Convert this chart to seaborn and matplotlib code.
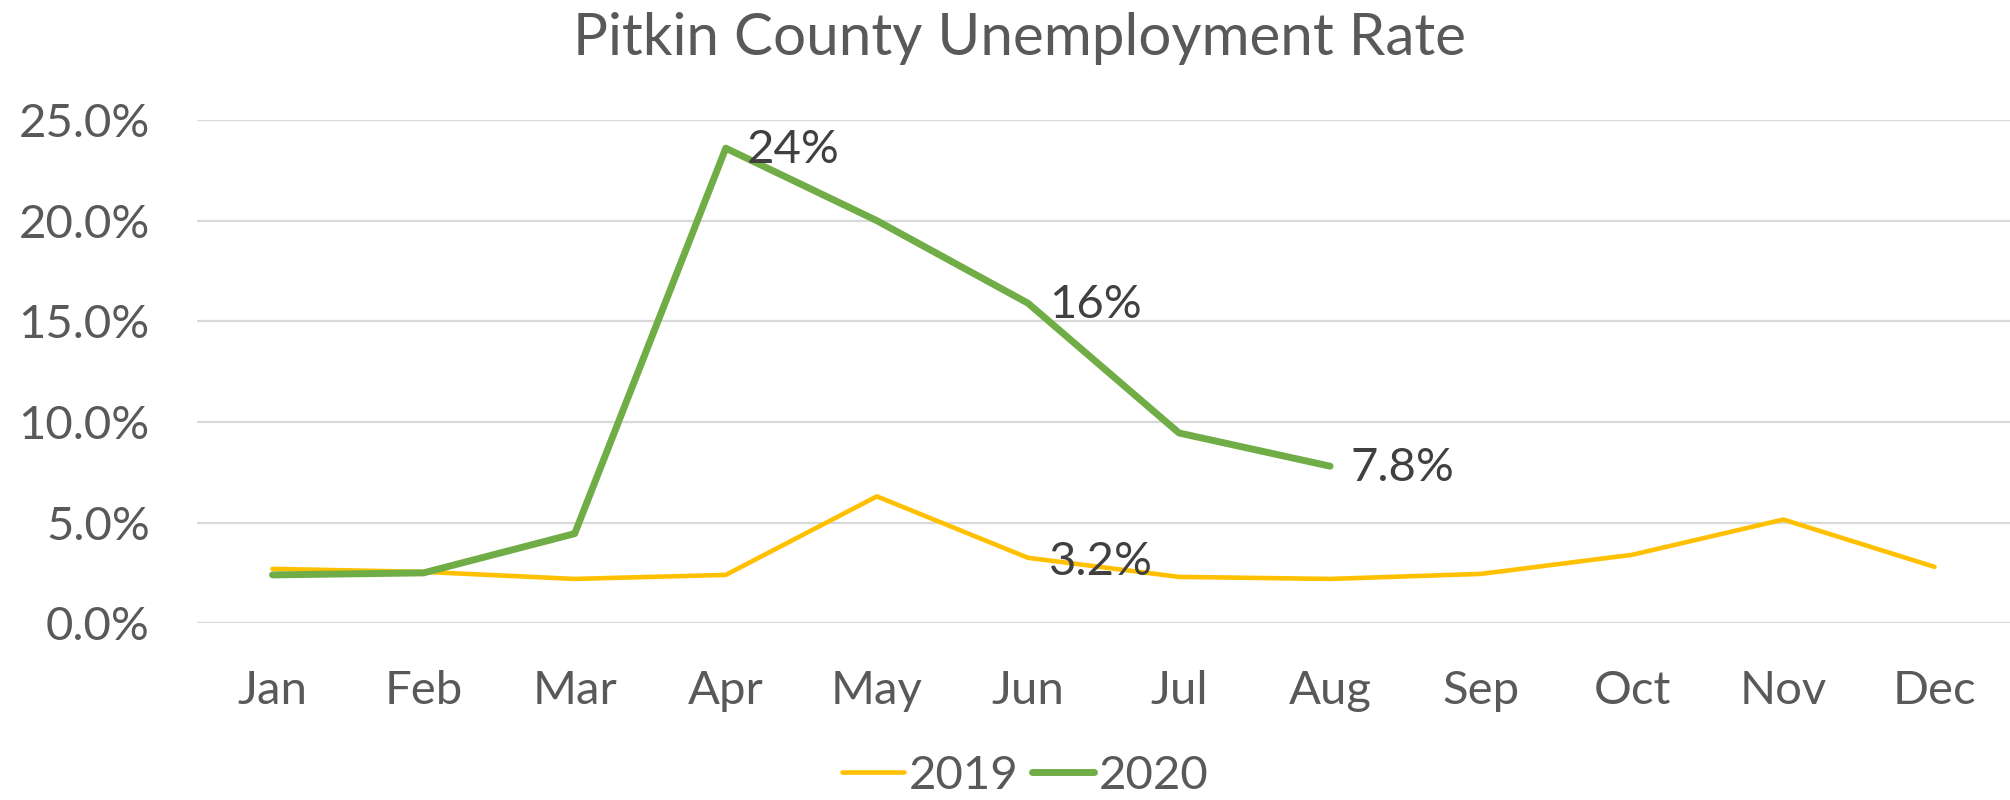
import matplotlib
matplotlib.use("Agg")
import matplotlib.pyplot as plt
import seaborn as sns
import pandas as pd
import numpy as np

months = ["Jan", "Feb", "Mar", "Apr", "May", "Jun", "Jul", "Aug", "Sep", "Oct", "Nov", "Dec"]
rate_2019 = [2.7, 2.55, 2.2, 2.4, 6.3, 3.25, 2.3, 2.2, 2.45, 3.4, 5.15, 2.8]
rate_2020 = [2.4, 2.5, 4.45, 23.6, 20.0, 15.9, 9.45, 7.8]
labels_2019 = {"Jun": "3.2%"}
labels_2020 = {"Apr": "24%", "Jun": "16%", "Aug": "7.8%"}
yticks = [0, 5, 10, 15, 20, 25]

sns.set_theme(style="white")
plt.rcParams["font.family"] = ["Lato", "DejaVu Sans"]

text_col = "#595959"
label_col = "#404040"
c2019 = "#FFC000"
c2020 = "#70AD47"

df19 = pd.DataFrame({"month": months, "rate": rate_2019})
df20 = pd.DataFrame({"month": months[:len(rate_2020)], "rate": rate_2020})

fig = plt.figure(figsize=(20.1, 8), dpi=100)
ax = fig.add_axes([0.098, 0.221, 0.902, 0.629])

sns.lineplot(data=df19, x="month", y="rate", ax=ax, color=c2019, linewidth=3.3,
             sort=False, label="2019", solid_capstyle="round", solid_joinstyle="round")
sns.lineplot(data=df20, x="month", y="rate", ax=ax, color=c2020, linewidth=5.0,
             sort=False, label="2020", solid_capstyle="round", solid_joinstyle="round")

for m, t in labels_2019.items():
    i = months.index(m)
    ax.annotate(t, (i, rate_2019[i]), xytext=(15, -3), textcoords="offset points",
                ha="left", va="center", fontsize=34, color=label_col)
for m, t in labels_2020.items():
    i = months.index(m)
    ax.annotate(t, (i, rate_2020[i]), xytext=(15, -1), textcoords="offset points",
                ha="left", va="center", fontsize=34, color=label_col)

ax.set_xlim(-0.5, len(months) - 0.5)
ax.set_ylim(0, 25)
ax.set_yticks(yticks)
ax.set_yticklabels([f"{v:.1f}%" for v in yticks])
ax.set_xticks(range(len(months)))
ax.set_xticklabels(months)
ax.yaxis.grid(True, color="#D9D9D9", linewidth=1.6)
ax.xaxis.grid(False)
ax.set_axisbelow(True)
for s in ax.spines.values():
    s.set_visible(False)
ax.tick_params(axis="y", length=0, pad=34, labelsize=34, labelcolor=text_col)
ax.tick_params(axis="x", length=0, pad=34, labelsize=34, labelcolor=text_col)
ax.set_xlabel("")
ax.set_ylabel("")
for t in ax.get_yticklabels() + ax.get_xticklabels():
    t.set_clip_on(False)

handles, lbls = ax.get_legend_handles_labels()
ax.get_legend().remove()
fig.legend(handles, lbls, loc="center", bbox_to_anchor=(0.51, 0.03), ncol=2, frameon=False,
           fontsize=34, labelcolor=text_col, handlelength=1.3, handletextpad=0.1,
           columnspacing=0.3)

fig.text(0.507, 0.952, "Pitkin County Unemployment Rate", ha="center", va="center",
         fontsize=42, color=text_col)

fig.savefig("out.png", dpi=100)
